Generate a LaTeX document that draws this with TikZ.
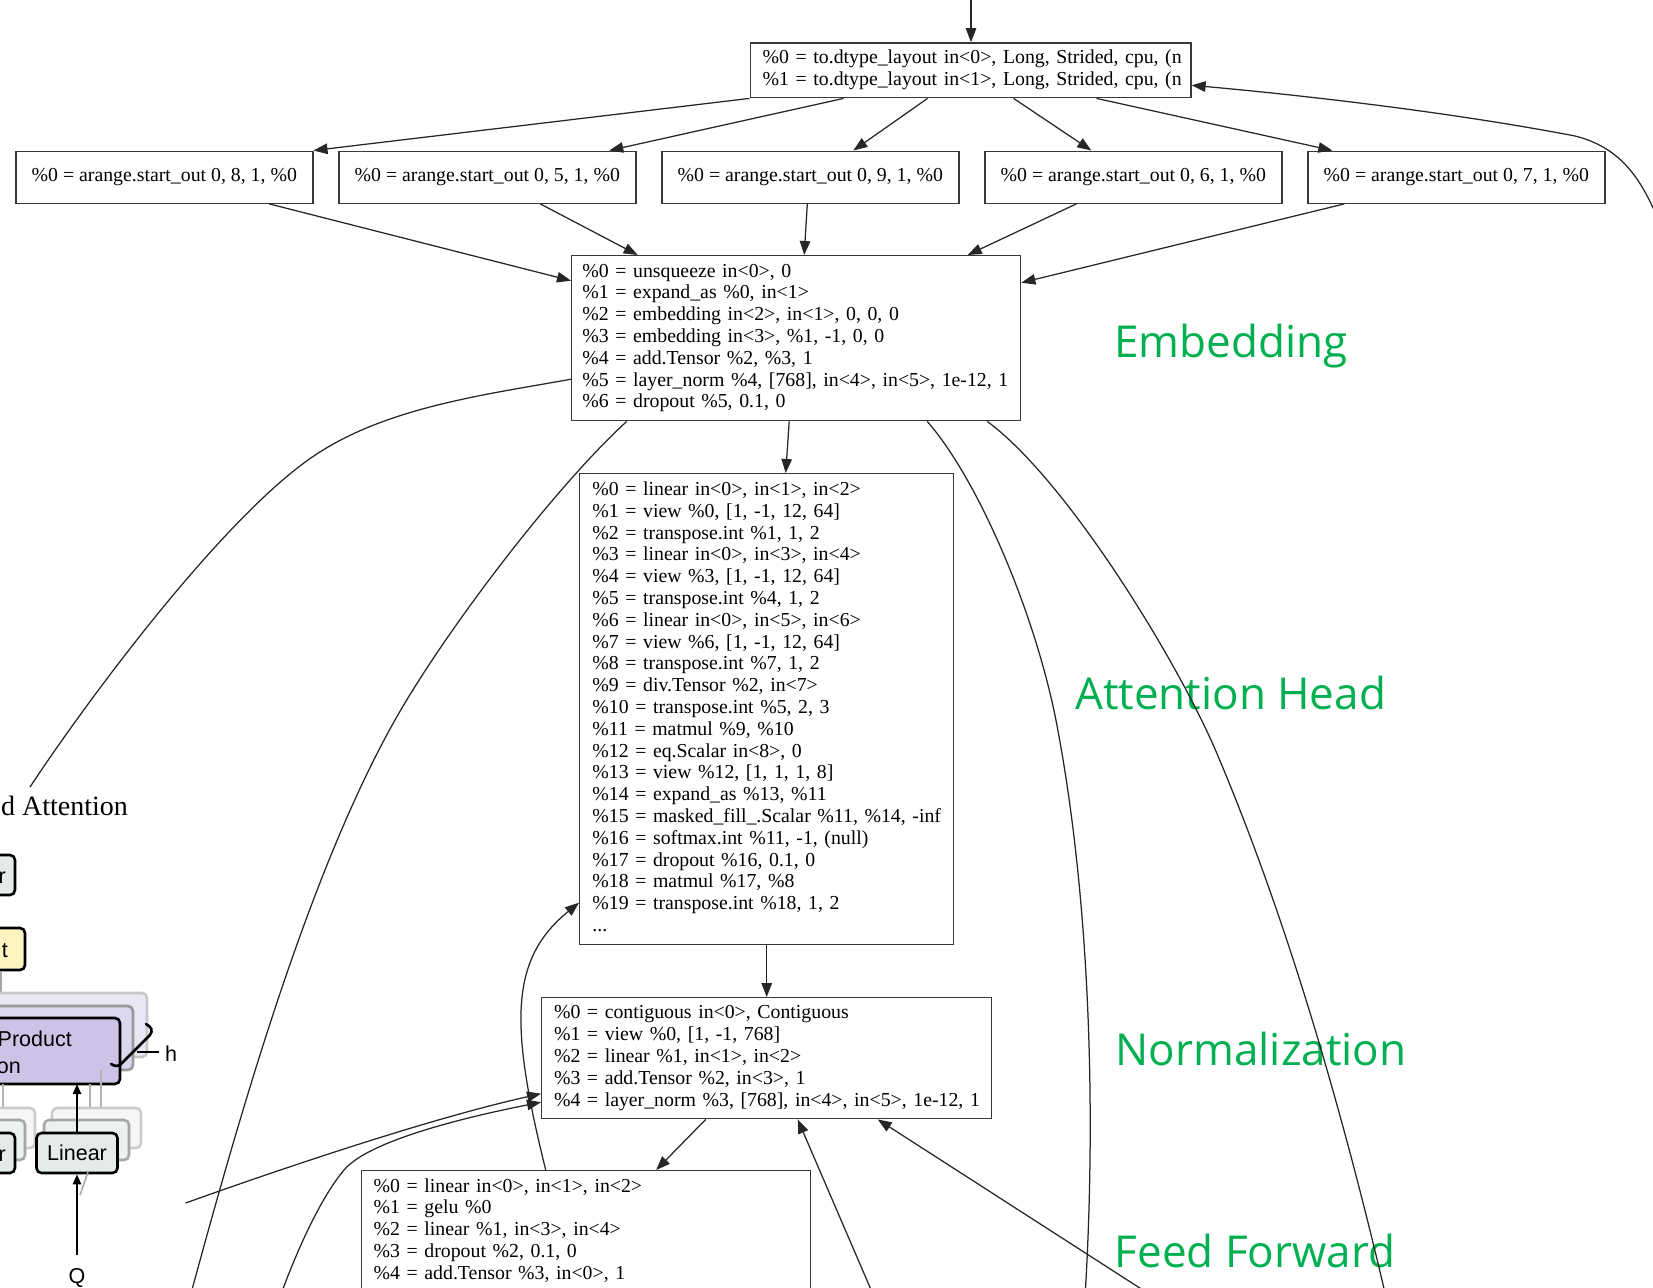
\documentclass[tikz,border=0pt]{standalone}
\usepackage{fontspec}
\usetikzlibrary{arrows.meta,calc}
\newfontfamily\opfont{Liberation Serif}
\newfontfamily\tagfont{Open Sans}
\newfontfamily\figsans{Liberation Sans}
\newcommand\oplines[1]{\noindent\begin{tabular}{@{}l@{}}#1\end{tabular}}
\definecolor{taggreen}{RGB}{0,176,80}
\definecolor{linfill}{HTML}{E5EBEA}
\definecolor{linM}{HTML}{EEF1F1}
\definecolor{linB}{HTML}{F5F7F7}
\definecolor{catfill}{HTML}{FCF5C2}
\definecolor{purp}{HTML}{CCC3E6}
\definecolor{purpM}{HTML}{DCD6EF}
\definecolor{purpB}{HTML}{EAE7F5}
\begin{document}
\begin{tikzpicture}[x=1pt,y=-1pt,
  op/.style={draw=black!78, line width=1.4pt, rectangle, inner xsep=0pt, inner ysep=0pt,
    font={\opfont\fontsize{19.8pt}{21.8pt}\selectfont}, align=left},
  edge/.style={draw=black!85, line width=1.25pt, -{Triangle[length=14pt,width=10.5pt]}},
  wire/.style={draw=black!85, line width=1.25pt},
  tag/.style={font={\tagfont\fontsize{44pt}{50pt}\selectfont}, text=taggreen, inner sep=0pt},
  fragbox/.style={draw=black, line width=2.6pt, rounded corners=5pt},
  fragtxt/.style={font={\figsans\fontsize{21.5pt}{24pt}\selectfont}, inner sep=0pt},
  fragarrow/.style={draw=black, line width=2.3pt, -{Triangle[length=10pt,width=8pt]}}]
\useasboundingbox (0,0) rectangle (1653,1287);
\fill[white] (0,0) rectangle (1653,1287);
\clip (0,0) rectangle (1653,1287);

% ---------- operation nodes ----------
\node[op, anchor=north west, minimum width=440.7pt, minimum height=54.8pt, inner xsep=12.5pt, text width=415.7pt] (n0) at (749.5,42.2)
 {\oplines{\%0 = to.dtype\_layout in<0>, Long, Strided, cpu, (n\\
 \%1 = to.dtype\_layout in<1>, Long, Strided, cpu, (n}};

\node[op, anchor=north, minimum width=297pt, minimum height=52pt] (a1) at (164.3,150.5) {\%0 = arange.start\_out 0, 8, 1, \%0};
\node[op, anchor=north, minimum width=297pt, minimum height=52pt] (a2) at (487.3,150.5) {\%0 = arange.start\_out 0, 5, 1, \%0};
\node[op, anchor=north, minimum width=297pt, minimum height=52pt] (a3) at (810.3,150.5) {\%0 = arange.start\_out 0, 9, 1, \%0};
\node[op, anchor=north, minimum width=297pt, minimum height=52pt] (a4) at (1133.3,150.5) {\%0 = arange.start\_out 0, 6, 1, \%0};
\node[op, anchor=north, minimum width=297pt, minimum height=52pt] (a5) at (1456.3,150.5) {\%0 = arange.start\_out 0, 7, 1, \%0};

\node[op, anchor=north west, minimum width=449pt, minimum height=165pt, inner xsep=10.7pt, text width=427.6pt] (emb) at (571,255)
 {\oplines{\%0 = unsqueeze in<0>, 0\\
 \%1 = expand\_as \%0, in<1>\\
 \%2 = embedding in<2>, in<1>, 0, 0, 0\\
 \%3 = embedding in<3>, \%1, -1, 0, 0\\
 \%4 = add.Tensor \%2, \%3, 1\\
 \%5 = layer\_norm \%4, [768], in<4>, in<5>, 1e-12, 1\\
 \%6 = dropout \%5, 0.1, 0}};

\node[op, anchor=north west, minimum width=374pt, minimum height=471pt, inner xsep=12.7pt, text width=348.6pt] (attn) at (579,473)
 {\oplines{\%0 = linear in<0>, in<1>, in<2>\\
 \%1 = view \%0, [1, -1, 12, 64]\\
 \%2 = transpose.int \%1, 1, 2\\
 \%3 = linear in<0>, in<3>, in<4>\\
 \%4 = view \%3, [1, -1, 12, 64]\\
 \%5 = transpose.int \%4, 1, 2\\
 \%6 = linear in<0>, in<5>, in<6>\\
 \%7 = view \%6, [1, -1, 12, 64]\\
 \%8 = transpose.int \%7, 1, 2\\
 \%9 = div.Tensor \%2, in<7>\\
 \%10 = transpose.int \%5, 2, 3\\
 \%11 = matmul \%9, \%10\\
 \%12 = eq.Scalar in<8>, 0\\
 \%13 = view \%12, [1, 1, 1, 8]\\
 \%14 = expand\_as \%13, \%11\\
 \%15 = masked\_fill\_.Scalar \%11, \%14, -inf\\
 \%16 = softmax.int \%11, -1, (null)\\
 \%17 = dropout \%16, 0.1, 0\\
 \%18 = matmul \%17, \%8\\
 \%19 = transpose.int \%18, 1, 2\\
 ...}};

\node[op, anchor=north west, minimum width=450pt, minimum height=121pt, inner xsep=12.3pt, text width=425.4pt] (norm) at (541,997)
 {\oplines{\%0 = contiguous in<0>, Contiguous\\
 \%1 = view \%0, [1, -1, 768]\\
 \%2 = linear \%1, in<1>, in<2>\\
 \%3 = add.Tensor \%2, in<3>, 1\\
 \%4 = layer\_norm \%3, [768], in<4>, in<5>, 1e-12, 1}};

\node[op, anchor=north west, minimum width=449pt, minimum height=121.4pt, inner xsep=12pt, text width=425pt] (ff) at (361,1170)
 {\oplines{\%0 = linear in<0>, in<1>, in<2>\\
 \%1 = gelu \%0\\
 \%2 = linear \%1, in<3>, in<4>\\
 \%3 = dropout \%2, 0.1, 0\\
 \%4 = add.Tensor \%3, in<0>, 1}};

% ---------- section labels ----------
\node[tag, anchor=base west] (lbemb) at (1114,357) {Embedding};
\node[tag, anchor=base west] (lbatt) at (1075,709) {Attention Head};
\node[tag, anchor=base west] (lbnorm) at (1115.5,1065.5) {Normalization};
\node[tag, anchor=base west] (lbff) at (1114.5,1267.8) {Feed Forward};

% ---------- connectors ----------
\coordinate (topsrc) at (971,-5);
\draw[edge] (topsrc) -- (topsrc |- n0.north);

\draw[edge] (n0.south west) -- (a1.north east);
\draw[edge] ([xshift=-127pt]n0.south) -- ([xshift=122pt]a2.north);
\draw[edge] ([xshift=-43pt]n0.south) -- ([xshift=43pt]a3.north);
\draw[edge] ([xshift=43pt]n0.south) -- ([xshift=-42pt]a4.north);
\draw[edge] ([xshift=126pt]n0.south) -- ([xshift=-124pt]a5.north);

\coordinate (backsrc) at (1672,260);
\draw[edge] (backsrc) .. controls (1648,180) and (1622,148) .. (1575,136)
  .. controls (1450,112) and (1300,95) .. ([yshift=-15pt]n0.east);

\draw[edge] ([xshift=105pt]a1.south) -- ([yshift=57.5pt]emb.west);
\draw[edge] ([xshift=53pt]a2.south) -- ([xshift=-158.5pt]emb.north);
\draw[edge] ([xshift=-3pt]a3.south) -- ([xshift=8pt]emb.north);
\draw[edge] ([xshift=-57pt]a4.south) -- ([xshift=171.5pt]emb.north);
\draw[edge] ([xshift=-112pt]a5.south) -- ([yshift=55.5pt]emb.east);

\draw[edge] ([xshift=-7pt]emb.south) -- ([xshift=19pt]attn.north);
\draw[edge] (attn.south) -- (norm.north);
\draw[edge] ([xshift=-61pt]norm.south) -- ([xshift=70pt]ff.north);

% long edges leaving the embedding block
\coordinate (e1) at ([yshift=-41pt]emb.west);
\coordinate (l1end) at (30,787);
\draw[wire] (e1) .. controls (482.5,395.2) and (380.9,407.8) .. (308,460)
  .. controls (218.9,523.8) and (90.7,695.3) .. (l1end);
\coordinate (e2) at ([xshift=-169.5pt]emb.south);
\coordinate (l2end) at (190,1297);
\draw[wire] (e2) .. controls (553.3,488.6) and (444.1,632.9) .. (395,720)
  .. controls (306.6,876.8) and (237.3,1123.3) .. (l2end);
\coordinate (e3) at ([xshift=131pt]emb.south);
\coordinate (r1end) at (1085,1297);
\draw[wire] (e3) .. controls (979,480.4) and (1036.1,616) .. (1056.7,724)
  .. controls (1088.5,891) and (1097,1100) .. (r1end);
\coordinate (e4) at ([xshift=191pt]emb.south);
\coordinate (r2end) at (1386,1297);
\draw[wire] (e4) .. controls (1066.7,479.7) and (1177.7,661) .. (1216.7,753)
  .. controls (1294.7,937) and (1349.5,1141.2) .. (r2end);

% edges returning upward
\coordinate (f1) at ([xshift=-40.5pt]ff.north);
\coordinate (t1) at ([yshift=-193.5pt]attn.west);
\draw[edge] (f1) .. controls (509.6,1024.2) and (509.5,959.2) .. (t1);

\coordinate (caS) at (185.6,1203);
\coordinate (t2) at ([yshift=-35.5pt]norm.west);
\draw[edge] (caS) .. controls (289.1,1165.9) and (433.75,1117.6) .. (t2);
\coordinate (cbS) at (280,1297);
\coordinate (cbM) at (344,1170);
\coordinate (t3) at ([yshift=-44pt]norm.west);
\draw[edge] (cbS) .. controls (293.5,1259.4) and (318.3,1200.6) .. (cbM)
  .. controls (369.7,1139.4) and (472.5,1115.8) .. (t3);

\coordinate (nbm) at (872,1292);
\draw[edge] (nbm) -- ([xshift=31pt]norm.south);
\coordinate (nbr) at (1146,1292);
\draw[edge] (nbr) -- ([xshift=111pt]norm.south);

% ---------- multi-head attention sketch at the left edge ----------
\node[font={\opfont\fontsize{28pt}{32pt}\selectfont}, inner sep=0pt, anchor=base east] (mhat) at (128,815) {d Attention};

\draw[fragbox, fill=linfill] (-40,855) rectangle (15,895);
\node[fragtxt, anchor=base east] (linout) at (6,883) {r};

\draw[fragbox, fill=catfill] (-40,928) rectangle (25,970);
\node[fragtxt, anchor=base east] (cat) at (8,957) {t};
\draw[black!35, line width=1.5pt] (1,972) -- (1,993);

\draw[fragbox, draw=black!22, fill=purpB] (-40,993) rectangle (147,1057);
\draw[fragbox, draw=black!40, fill=purpM] (-40,1006) rectangle (133,1070);
\draw[fragbox, fill=purp] (-40,1018) rectangle (120,1084);
\node[fragtxt, anchor=base east] (sdp1) at (72,1046) {Product};
\node[fragtxt, anchor=base east] (sdp2) at (21,1073) {on};

\draw[line width=2.6pt, line cap=round] (146,1024) .. controls (152,1027) and (153,1031) .. (150,1035)
  -- (121,1064) .. controls (118,1067) and (114,1066) .. (111,1064);
\draw[line width=1.5pt] (137,1052) -- (159,1052);
\node[fragtxt, anchor=base west] (hh) at (165,1061.5) {h};

\draw[black!30, line width=2.5pt] (90,1084) -- (90,1113);
\draw[black!30, line width=2.5pt] (101,1070) -- (101,1108);
\draw[black!30, line width=2.5pt] (3,1084) -- (3,1120);

\draw[fragbox, draw=black!20, fill=linB] (-40,1108) rectangle (35,1148);
\draw[fragbox, draw=black!35, fill=linM] (-40,1120) rectangle (25,1160);
\draw[fragbox, fill=linfill] (-40,1133) rectangle (15,1173);
\node[fragtxt, anchor=base east] (linv) at (6,1161) {r};

\draw[fragbox, draw=black!20, fill=linB] (52,1108) rectangle (141,1148);
\draw[fragbox, draw=black!35, fill=linM] (44,1120) rectangle (129,1160);
\node[fragbox, fill=linfill, fragtxt, minimum width=81pt, minimum height=40pt] (linq) at (77,1153) {Linear};

\node[fragtxt, anchor=base] (q) at (77,1283) {Q};
\coordinate (sdpab) at (77,1084);
\draw[black!35, line width=1.5pt] (80,1195) -- (88,1172);
\draw[fragarrow] ([yshift=12.5pt]q.north) -- (linq.south);
\draw[fragarrow] (linq.north) -- (sdpab);
\end{tikzpicture}
\end{document}
